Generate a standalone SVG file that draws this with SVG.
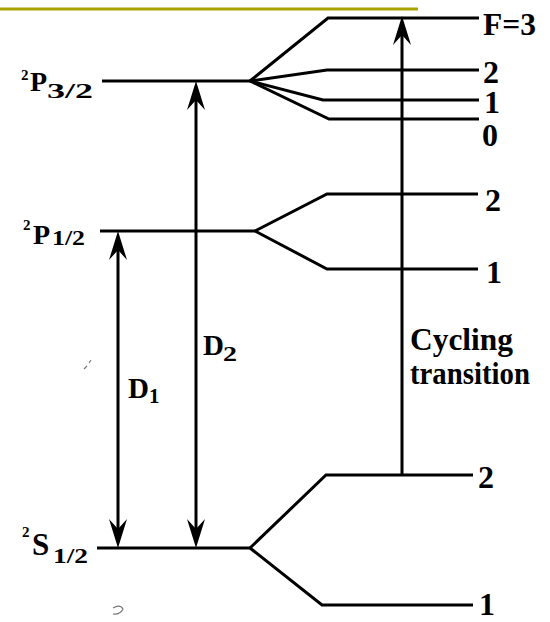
<svg xmlns="http://www.w3.org/2000/svg" width="550" height="622" viewBox="0 0 550 622">
<style>
.lv{fill:none;stroke:#000;stroke-width:3;stroke-linejoin:miter}
.ar{fill:none;stroke:#000;stroke-width:3}
.t{font-family:"Liberation Serif","Times New Roman",serif;font-weight:bold;fill:#000}
.r{font-size:32px}
.big{font-size:29px}
.sub{font-size:21px}
.sup{font-size:15px}
.speck{fill:none;stroke:#777;stroke-width:1.2}
</style>
<defs>
<marker id="ah" markerUnits="userSpaceOnUse" viewBox="-30 -10 32 20" markerWidth="32" markerHeight="20" refX="-6" refY="0" orient="auto-start-reverse">
<path d="M0,0 L-29,-9 L-19,0 L-29,9 Z" fill="#000"/>
</marker>
</defs>
<rect width="550" height="622" fill="#fff"/>
<line x1="0" y1="9" x2="418" y2="9" stroke="#a9a300" stroke-width="3"/>

<g id="level-P32">
<path class="lv" d="M102,81 L250,81"/>
<path class="lv" d="M250,81 L328,18 L479,18"/>
<path class="lv" d="M250,81 L327,70 L479,70"/>
<path class="lv" d="M250,81 L323,100 L479,100"/>
<path class="lv" d="M250,81 L329,119 L479,119"/>
<text class="t sup" x="21" y="80">2</text>
<text class="t" x="30" y="91" font-size="28">P</text>
<text class="t sub" x="47" y="98" textLength="46" lengthAdjust="spacingAndGlyphs">3/2</text>
<text class="t r" x="483" y="35" textLength="53" lengthAdjust="spacingAndGlyphs">F=3</text>
<text class="t r" x="483" y="83">2</text>
<text class="t r" x="484" y="113">1</text>
<text class="t r" x="482" y="146">0</text>
</g>

<g id="level-P12">
<path class="lv" d="M100,231 L255,231"/>
<path class="lv" d="M255,231 L327,194 L478,194"/>
<path class="lv" d="M255,231 L327,269 L478,269"/>
<text class="t sup" x="23" y="230">2</text>
<text class="t" x="33" y="244" font-size="28">P</text>
<text class="t sub" x="52" y="245" textLength="33" lengthAdjust="spacingAndGlyphs">1/2</text>
<text class="t r" x="485" y="211">2</text>
<text class="t r" x="486" y="283">1</text>
</g>

<g id="level-S12">
<path class="lv" d="M97,548 L250,548"/>
<path class="lv" d="M250,548 L326,475 L473,475"/>
<path class="lv" d="M250,548 L322,605 L473,605"/>
<text class="t sup" x="22" y="537">2</text>
<text class="t" x="32" y="555" font-size="31">S</text>
<text class="t sub" x="53" y="563" textLength="35" lengthAdjust="spacingAndGlyphs">1/2</text>
<text class="t r" x="478" y="488">2</text>
<text class="t r" x="479" y="615">1</text>
</g>

<g id="connectors">
<line class="ar" x1="118" y1="237" x2="118" y2="542" marker-start="url(#ah)" marker-end="url(#ah)"/>
<line class="ar" x1="196" y1="87" x2="196" y2="542" marker-start="url(#ah)" marker-end="url(#ah)"/>
<line class="ar" x1="402" y1="475" x2="402" y2="22" marker-end="url(#ah)"/>
</g>

<g id="label-D1">
<text class="t big" x="128" y="398">D</text>
<text class="t sub" x="149" y="403">1</text>
</g>
<g id="label-D2">
<text class="t big" x="203" y="355">D</text>
<text class="t sub" x="223" y="361" textLength="14" lengthAdjust="spacingAndGlyphs">2</text>
</g>
<g id="label-cycling">
<text class="t" x="410" y="350" font-size="31" textLength="103" lengthAdjust="spacingAndGlyphs">Cycling</text>
<text class="t" x="410" y="384" font-size="31" textLength="120" lengthAdjust="spacingAndGlyphs">transition</text>
</g>

<path class="speck" d="M84,369 L87,366 M89,363 L91,360"/>
<path class="speck" d="M113,608 Q120,604 123,609 Q120,615 113,614"/>
</svg>
